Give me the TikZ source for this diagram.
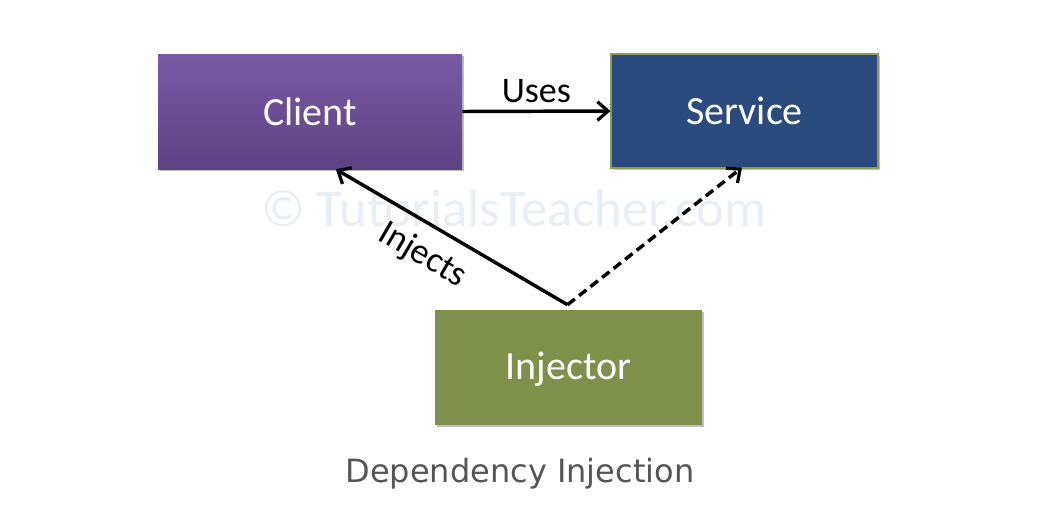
\documentclass[tikz,border=0pt]{standalone}
\usepackage{fontspec}
\setmainfont{Carlito}
\newfontfamily\capfont{DejaVu Sans}
\usetikzlibrary{arrows.meta,shadows,calc}
\definecolor{clienttop}{HTML}{7B5AA5}
\definecolor{clientbot}{HTML}{5E4283}
\definecolor{svcfill}{HTML}{2B4A7D}
\definecolor{svcedge}{HTML}{8A9D52}
\definecolor{injfill}{HTML}{7E9049}
\definecolor{wmark}{HTML}{E8EEF3}
\definecolor{capgray}{HTML}{555555}
\tikzset{
  box/.style={draw=none, minimum width=#1, inner sep=0pt, text=white,
    font=\fontsize{30}{36}\selectfont,
    drop shadow={shadow xshift=1.5pt, shadow yshift=-1.5pt, opacity=0.25, fill=black}},
  conn/.style={line width=2.6pt, -{Straight Barb[length=8pt,width=14pt,line width=2.4pt]}},
  lbl/.style={font=\fontsize{27}{32}\selectfont, text=black}
}
\begin{document}
\begin{tikzpicture}[x=0.75pt,y=-0.75pt]
\useasboundingbox (0,0) rectangle (1062,526);
\fill[white] (0,0) rectangle (1062,526);
% watermark
\node[text=wmark, font=\fontsize{39.5}{44}\selectfont] (wm) at (514,208) {© TutorialsTeacher.com};
% boxes
\node[box=228pt, minimum height=86.25pt, top color=clienttop, bottom color=clientbot] (client) at (310,111.5) {Client};
\node[box=200.25pt, minimum height=85.5pt, fill=svcfill, draw=svcedge, line width=0.8pt] (svc) at (744.5,111) {Service};
\node[box=200.25pt, minimum height=86.25pt, fill=injfill, text depth=3pt] (inj) at (568.5,367.5) {Injector};
% connectors
\coordinate (apex) at ($(inj.north)+(-1,-5)$);
\coordinate (ctip) at ($(client.south west)!0.585!(client.south east)$);
\coordinate (stip) at ($(svc.south)+(-2.5,-1)$);
\draw[conn] (client.east) -- node[lbl, above, inner sep=5pt] (uses) {Uses} (svc.west);
\draw[conn] (apex) -- node[lbl, pos=0.56, sloped, below, inner sep=10pt] (injects) {Injects} (ctip);
\draw[conn, dash pattern=on 7pt off 4pt] (apex) -- (stip);
% caption
\node[text=capgray, font=\capfont\fontsize{24}{28}\selectfont] (cap) at (520,474) {Dependency Injection};
\end{tikzpicture}
\end{document}
